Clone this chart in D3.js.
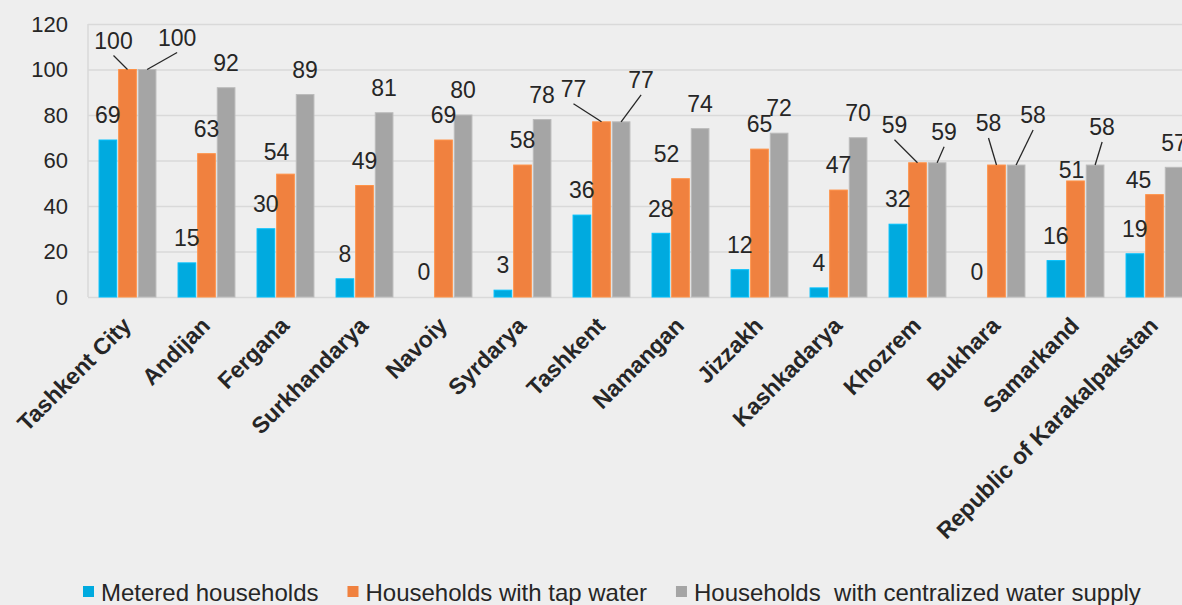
<!DOCTYPE html>
<html>
<head>
<meta charset="utf-8">
<script src="https://cdn.jsdelivr.net/npm/d3@7"></script>
<style>
body{margin:0;background:#eeeeee;overflow:hidden;}
svg{display:block;font-family:"Liberation Sans",Arial,sans-serif;}
</style>
</head>
<body>
<script>
//chart data
var regions = ["Tashkent City","Andijan","Fergana","Surkhandarya","Navoiy","Syrdarya","Tashkent",
    "Namangan","Jizzakh","Kashkadarya","Khozrem","Bukhara","Samarkand","Republic of Karakalpakstan"];
var metered = [69,15,30,8,0,3,36,28,12,4,32,0,16,19];
var tapWater = [100,63,54,49,69,58,77,52,65,47,59,58,51,45];
var centralized = [100,92,89,81,80,78,77,74,72,70,59,58,58,57];
var seriesNames = ["Metered households","Households with tap water","Households  with centralized water supply"];
var seriesColors = ["#00aadf","#f0813f","#a5a5a5"];
var yTicks = [0,20,40,60,80,100,120];

//labels moved off the default spot: [series, region, dx, dy, leader line]
var labelNudges = [
    [1,0,-14,-4,true],[2,0,30,-7,true],
    [1,2,-9,3,false],
    [1,6,-28,-8,true],[2,6,20,-17,true],
    [1,7,-14,0,false],
    [1,10,-23,-13,true],[2,10,7,-6,true],
    [1,11,-8,-17,true],[2,11,17,-25,true],
    [1,12,-4,14,false],[2,12,7,-13,true],
    [1,13,-16,10,false]
];

window.onload = drawChart();

function drawChart(){
    var width = 1182,
        height = 605;
    var plotLeft = 88, plotRight = 1194, plotTop = 24, plotBottom = 297;

    var svg = d3.select("body")
        .append("svg")
        .attr("width", width)
        .attr("height", height);

    var series = [metered, tapWater, centralized];

    var x0 = d3.scaleBand()
        .domain(regions)
        .range([plotLeft, plotRight])
        .paddingInner(0.28)
        .paddingOuter(0.14);

    var x1 = d3.scaleBand()
        .domain([0,1,2])
        .range([0, x0.bandwidth()])
        .paddingInner(0.1);

    var y = d3.scaleLinear()
        .domain([0,120])
        .range([plotBottom, plotTop]);

    //gridlines and y labels
    var yAxis = svg.append("g")
        .attr("transform", "translate(" + plotLeft + ",0)")
        .call(d3.axisLeft(y)
            .tickValues(yTicks)
            .tickSize(-(plotRight - plotLeft))
            .tickPadding(20));
    yAxis.select(".domain").remove();
    yAxis.selectAll(".tick line")
        .attr("stroke", "#d9d9d9")
        .attr("stroke-width", 1.5);
    yAxis.selectAll(".tick text")
        .attr("fill", "#262626")
        .style("font-size", "22px");

    //plot area left edge
    svg.append("line")
        .attr("x1", plotLeft).attr("x2", plotLeft)
        .attr("y1", plotTop).attr("y2", plotBottom)
        .attr("stroke", "#d9d9d9")
        .attr("stroke-width", 1.5);

    //bars
    var bars = [];
    series.forEach(function(vals, s){
        vals.forEach(function(v, i){
            bars.push({s: s, i: i, v: v});
        });
    });

    svg.selectAll(".bar")
        .data(bars)
        .enter()
        .append("rect")
        .attr("class", "bar")
        .attr("x", function(d){ return x0(regions[d.i]) + x1(d.s); })
        .attr("width", x1.bandwidth())
        .attr("y", function(d){ return y(d.v); })
        .attr("height", function(d){ return y(0) - y(d.v); })
        .attr("fill", function(d){ return seriesColors[d.s]; })
        .attr("stroke", function(d){ return d3.color(seriesColors[d.s]).brighter(0.35); })
        .attr("stroke-width", 1);

    //data labels
    bars.forEach(function(d){
        var bx = x0(regions[d.i]) + x1(d.s) + x1.bandwidth() / 2;
        var by = y(d.v);
        var lx = bx, ly = by - 25;
        var nudge = labelNudges.find(function(n){ return n[0] === d.s && n[1] === d.i; });
        if (nudge){
            lx += nudge[2];
            ly += nudge[3];
            if (nudge[4]){
                svg.append("line")
                    .attr("x1", lx).attr("y1", ly + 15)
                    .attr("x2", bx).attr("y2", by)
                    .attr("stroke", "#262626")
                    .attr("stroke-width", 1.3);
            }
        }
        svg.append("text")
            .attr("x", lx)
            .attr("y", ly)
            .attr("dy", "0.36em")
            .attr("text-anchor", "middle")
            .attr("fill", "#262626")
            .style("font-size", "23px")
            .text(d.v);
    });

    //category labels
    svg.selectAll(".cat")
        .data(regions)
        .enter()
        .append("text")
        .attr("class", "cat")
        .attr("transform", function(d){
            return "translate(" + (x0(d) + x0.bandwidth() / 2 + 5) + ",327) rotate(-45)";
        })
        .attr("text-anchor", "end")
        .attr("fill", "#262626")
        .style("font-size", "23px")
        .style("font-weight", "bold")
        .text(function(d){ return d; });

    //legend
    var lx = 83;
    seriesNames.forEach(function(name, s){
        svg.append("rect")
            .attr("x", lx).attr("y", 586)
            .attr("width", 11).attr("height", 11)
            .attr("fill", seriesColors[s]);
        var t = svg.append("text")
            .attr("x", lx + 18)
            .attr("y", 592)
            .attr("dy", "0.36em")
            .attr("fill", "#262626")
            .style("font-size", "24px")
            .style("white-space", "pre")
            .text(name);
        lx += 18 + t.node().getComputedTextLength() + 29;
    });
};
</script>
</body>
</html>
